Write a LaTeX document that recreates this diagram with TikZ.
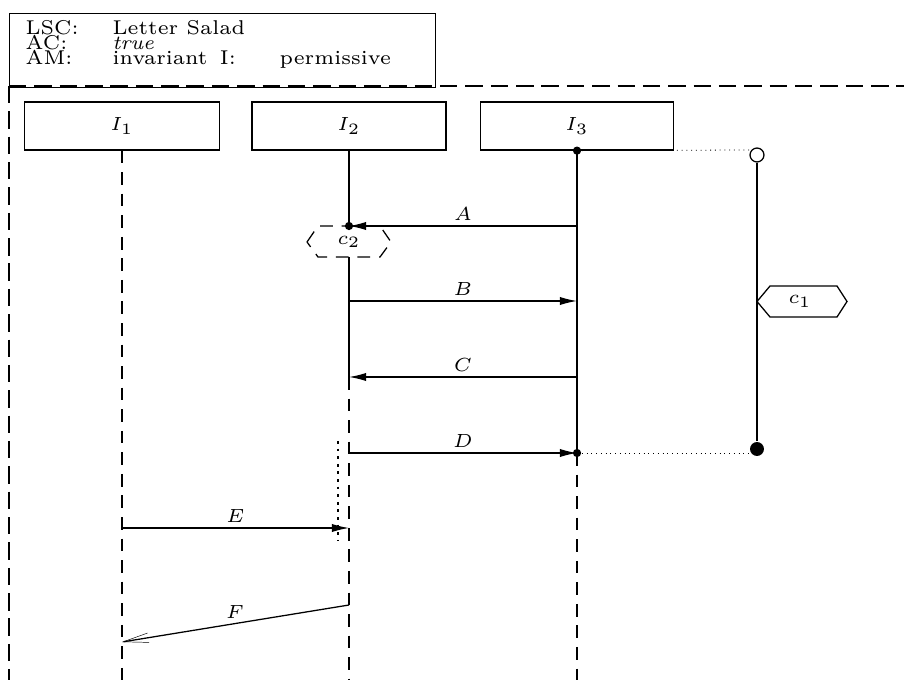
\documentclass[tikz,border=0pt]{standalone}
\usetikzlibrary{arrows.meta}
% one drawing unit
\newcommand\pu{0.3155pt}
\begin{document}
\begin{tikzpicture}[x=\pu, y=-\pu, font=\fontsize{6.3}{7.5}\selectfont,
  inst/.style={draw, minimum height={48*\pu}, inner sep=0pt},
  msg/.style={-{Latex[length=5.4pt,width=2.6pt]}},
  lost/.style={-{Straight Barb[length=8pt,width=3pt,line width=0.15pt]}},
  life/.style={dash pattern=on 4pt off 2.8pt},
  frame/.style={dash pattern=on 5.5pt off 2.5pt},
  fine/.style={line width=0.25pt, dash pattern=on 0.3pt off 1.2pt},
  cut/.style={line width=0.9pt, dash pattern=on 0.9pt off 1.5pt},
  lbl/.style={anchor=base, inner sep=0pt},
  hd/.style={anchor=base west, inner sep=0pt},
  dot/.style={circle, fill, inner sep=0pt, minimum size=2.6pt},
  bigdot/.style={circle, fill, inner sep=0pt, minimum size=4.4pt},
  hole/.style={circle, draw, fill=white, inner sep=0pt, minimum size=4.4pt}]

\useasboundingbox (0,0) rectangle (904,680);

% chart header
\node[draw, anchor=north west, minimum width={426*\pu}, minimum height={74*\pu}, inner sep=0pt] (hdr) at (9,13) {};
\node[hd] (t1) at (25,35) {LSC:};
\node[hd] (v1) at (112,35) {Letter Salad};
\node[hd] (t2) at (25,50) {AC:};
\node[hd] (v2) at (112,50) {\textit{true}};
\node[hd] (t3) at (25,65) {AM:};
\node[hd] (v3) at (112,65) {invariant};
\node[hd, xshift=3.5pt] (t4) at (v3.base east) {I:};
\node[hd] (v4) at (279,65) {permissive};

% chart frame
\coordinate (fr1) at (930,86);
\coordinate (fr2) at (9,86);
\coordinate (fr3) at (9,700);
\draw[frame] (fr2) -- (fr1);
\draw[frame] (fr2) -- (fr3);

% instances
\node[inst, minimum width={195*\pu}] (i1) at (122,126) {$I_1$};
\node[inst, minimum width={194*\pu}] (i2) at (349,126) {$I_2$};
\node[inst, minimum width={193*\pu}] (i3) at (577,126) {$I_3$};

% lifeline points
\coordinate (e1) at (122,528);
\coordinate (f1) at (122,642);
\coordinate (l1) at (122,700);
\coordinate (a2) at (349,226);
\coordinate (b2) at (349,301);
\coordinate (c2p) at (349,377);
\coordinate (d2) at (349,453);
\coordinate (e2) at (349,528);
\coordinate (f2) at (349,605);
\coordinate (l2) at (349,700);
\coordinate (a3) at (577,226);
\coordinate (b3) at (577,301);
\coordinate (c3) at (577,377);
\coordinate (d3) at (577,453);
\coordinate (l3) at (577,700);

% condition c2 on I2
\node (c2) at (349,242) {$c_2$};
\draw[life] (307,242) -- (318,226) -- (380,226) -- (391,242) -- (380,257) -- (318,257) -- cycle;
\coordinate (c2b) at (349,257);

% lifelines
\draw[life] (i1.south) -- (l1);
\draw (i2.south) -- (a2);
\draw (c2b) -- (c2p);
\draw[life] (c2p) -- (l2);
\draw (i3.south) -- (d3);
\draw[life] (d3) -- (l3);

% messages
\draw[msg] (a3) -- node[lbl, pos=0.5, yshift=1.7pt] (la) {$A$} (a2);
\draw[msg] (b2) -- node[lbl, pos=0.5, yshift=1.7pt] (lb) {$B$} (b3);
\draw[msg] (c3) -- node[lbl, pos=0.5, yshift=1.7pt] (lc) {$C$} (c2p);
\draw[msg] (d2) -- node[lbl, pos=0.5, yshift=1.7pt] (ld) {$D$} (d3);
\draw[msg] (e1) -- node[lbl, pos=0.5, yshift=1.7pt] (le) {$E$} (e2);
\draw[lost] (f2) -- (f1);
\node[lbl] (lf) at (235,618) {$F$};

% message anchors
\node[dot] (da2) at (a2) {};
\node[dot] (dd3) at (d3) {};
\node[dot] (di3) at (i3.south) {};

% coregion mark on I2
\coordinate (k1) at (338,441);
\coordinate (k2) at (338,541);
\draw[cut] (k1) -- (k2);

% condition c1 spanning I3
\node[hole] (o1) at (757,155) {};
\node[bigdot] (o2) at (757,449) {};
\draw (o1) -- (o2);
\coordinate (g1) at (o1.west |- 0,150);
\coordinate (g2) at (o2.west |- 0,453);
\draw[fine] (di3) -- (g1);
\draw[fine] (dd3) -- (g2);
\node (c1) at (800,301.5) {$c_1$};
\draw (757,301.5) -- (770,286) -- (837,286) -- (847,301.5) -- (837,317) -- (770,317) -- cycle;
\end{tikzpicture}
\end{document}
